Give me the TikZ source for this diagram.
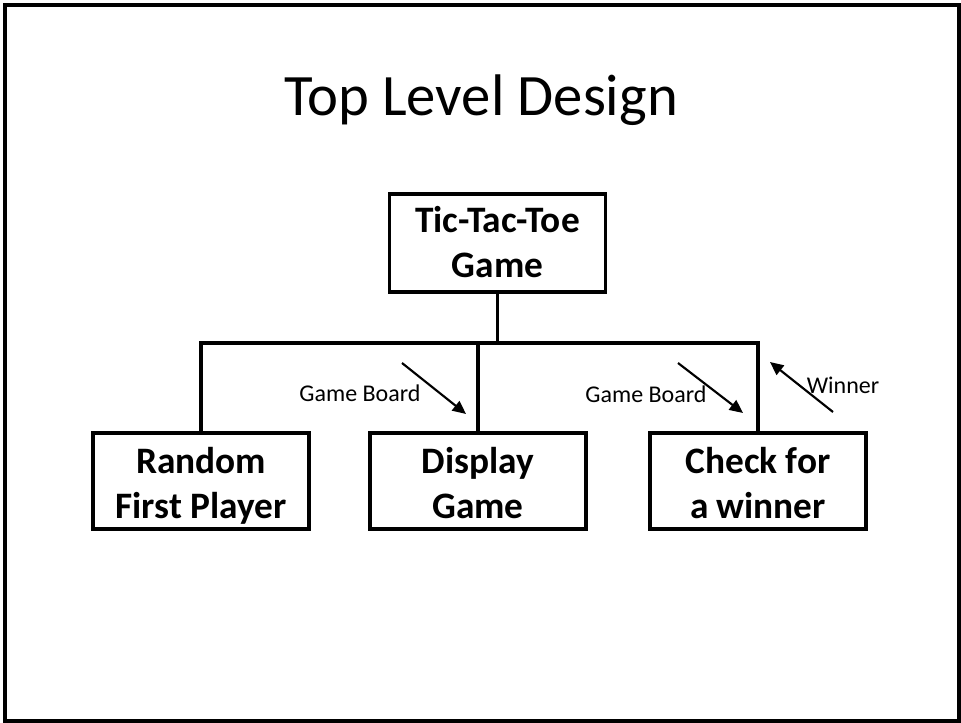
\documentclass[tikz,border=0pt]{standalone}
\usepackage{fontspec}
\setmainfont{Carlito}
\usetikzlibrary{arrows.meta}
\newcommand{\myhi}[1]{\rule{0pt}{#1}}
\newcommand{\mylo}{\rule[-8pt]{0pt}{8pt}}
\begin{document}
\begin{tikzpicture}[x=0.75pt,y=-0.75pt,
  box/.style={draw, line width=2.9pt, minimum width=162pt, minimum height=72pt, align=center,
    font=\fontsize{28}{33.6}\selectfont\bfseries, inner sep=0pt},
  conn/.style={line width=2.9pt},
  flow/.style={line width=1.6pt, -{Triangle[length=10pt,width=9pt]}},
  lbl/.style={font=\fontsize{18}{20}\selectfont, inner sep=0pt}]
\useasboundingbox (0,0) rectangle (961,723);
\draw[line width=3pt] (4.5,5.5) rectangle (959,721);
\node[font=\fontsize{44}{50}\selectfont, inner sep=0pt] (title) at (481,100) {Top Level Design};
\node[box, minimum height=73.5pt] (top) at (497.5,243) {\myhi{26pt}Tic-Tac-Toe\\Game\mylo};
\node[box] (rand) at (201,481) {\myhi{31pt}Random\\First Player\mylo};
\node[box] (disp) at (478,481) {\myhi{31pt}Display\\Game\mylo};
\node[box] (chk) at (758,481) {\myhi{31pt}Check for\\a winner\mylo};
\coordinate (bus) at (200,343);
\draw[conn] (top.south) -- (top.south |- bus);
\draw[conn] (rand.north) -- (rand.north |- bus) -- (chk.north |- bus) -- (chk.north);
\draw[conn] (disp.north) -- (disp.north |- bus);
\coordinate (a1s) at (402,363); \coordinate (a1e) at (466,414);
\coordinate (a2s) at (678,363); \coordinate (a2e) at (743,413);
\coordinate (a3s) at (833,412); \coordinate (a3e) at (770,362);
\draw[flow] (a1s) -- (a1e);
\draw[flow] (a2s) -- (a2e);
\draw[flow] (a3s) -- (a3e);
\node[lbl] (l1) at (360,393) {Game Board};
\node[lbl] (l2) at (646,394) {Game Board};
\node[lbl] (l3) at (843,385) {Winner};
\end{tikzpicture}
\end{document}
